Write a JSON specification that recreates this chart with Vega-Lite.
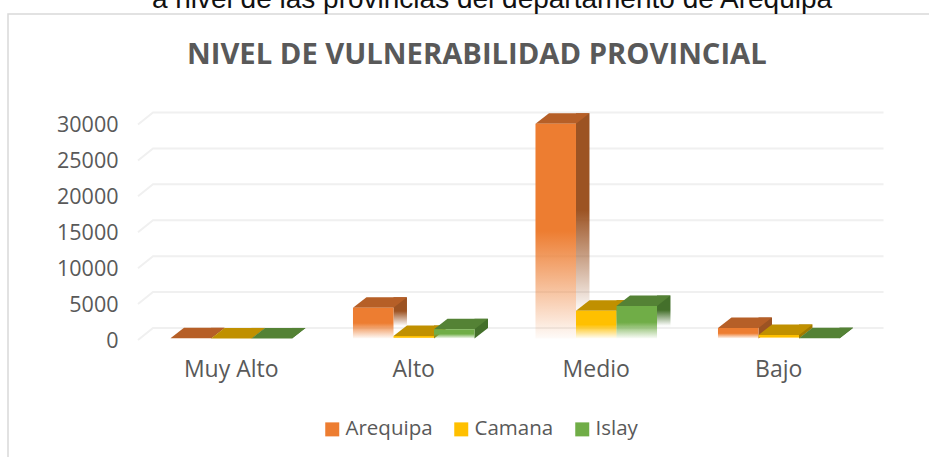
{"$schema":"https://vega.github.io/schema/vega-lite/v6.json","autosize":{"type":"none"},"padding":{"left":140,"top":123,"right":59,"bottom":118.5},"width":730,"height":215.5,"background":"white","title":{"text":"NIVEL DE VULNERABILIDAD PROVINCIAL","font":"Open Sans","fontWeight":700,"fontSize":29.2,"color":"#595959","anchor":"start","frame":"group","dx":47,"offset":-84},"config":{"view":{"stroke":null},"axis":{"grid":false,"domain":false,"ticks":false,"title":null,"labelColor":"#595959","labelFont":"Open Sans","labelFontSize":23},"legend":{"labelFont":"Open Sans"}},"data":{"values":[{"nivel":"Muy Alto","provincia":"Arequipa","valor":20},{"nivel":"Muy Alto","provincia":"Camana","valor":10},{"nivel":"Muy Alto","provincia":"Islay","valor":5},{"nivel":"Alto","provincia":"Arequipa","valor":4290},{"nivel":"Alto","provincia":"Camana","valor":350},{"nivel":"Alto","provincia":"Islay","valor":1280},{"nivel":"Medio","provincia":"Arequipa","valor":29900},{"nivel":"Medio","provincia":"Camana","valor":3870},{"nivel":"Medio","provincia":"Islay","valor":4520},{"nivel":"Bajo","provincia":"Arequipa","valor":1460},{"nivel":"Bajo","provincia":"Camana","valor":490},{"nivel":"Bajo","provincia":"Islay","valor":50}]},"encoding":{"x":{"field":"nivel","type":"nominal","axis":{"labelAngle":0,"labelPadding":20},"scale":{"domain":["Muy Alto","Alto","Medio","Bajo"],"paddingInner":0.334,"paddingOuter":0.167}},"xOffset":{"field":"provincia","type":"nominal","scale":{"domain":["Arequipa","Camana","Islay"],"paddingInner":0,"paddingOuter":0}},"y":{"field":"valor","type":"quantitative","axis":{"values":[0,5000,10000,15000,20000,25000,30000],"labelPadding":22,"labelOffset":2.5,"format":"d","labelFontSize":21.5},"scale":{"domain":[0,30000],"nice":false}}},"layer":[{"data":{"values":[{}]},"mark":{"type":"rect","fill":"transparent","stroke":"#d9d9d9","strokeWidth":1.5},"encoding":{"x":{"value":-132},"y":{"value":-109},"x2":{"value":830},"y2":{"value":400},"xOffset":null}},{"data":{"values":[{"t":"a nivel de las provincias del departamento de Arequipa"}]},"mark":{"type":"text","font":"Liberation Sans","fontSize":28,"color":"#111111","align":"center","baseline":"alphabetic"},"encoding":{"text":{"field":"t"},"x":{"value":352},"y":{"value":-115},"xOffset":null}},{"data":{"values":[{"tick":0},{"tick":5000},{"tick":10000},{"tick":15000},{"tick":20000},{"tick":25000},{"tick":30000}]},"mark":{"type":"point","shape":"M-367,1.5L-352,-10.5L378.5,-10.5","size":4,"filled":false,"stroke":"#f0f0f0","strokeWidth":2,"opacity":1},"encoding":{"x":null,"xOffset":null,"y":{"field":"tick","type":"quantitative"}}},{"transform":[{"filter":"datum.provincia==='Arequipa'"}],"layer":[{"transform":[{"filter":"datum.valor>=2000"}],"mark":{"type":"bar","width":13.5,"yOffset":-10.5,"y2Offset":-10.5,"fill":{"gradient":"linear","x1":0,"y1":0,"x2":0,"y2":1,"stops":[{"offset":0,"color":"#9c5323"},{"offset":0.45,"color":"#9c5323"},{"offset":0.92,"color":"rgba(156,83,35,0.03)"},{"offset":1,"color":"rgba(156,83,35,0)"}]}},"encoding":{"xOffset":{"value":47.25}}},{"transform":[{"filter":"datum.valor<2000"}],"mark":{"type":"bar","width":13.5,"yOffset":-10.5,"y2Offset":-10.5,"fill":"#9c5323"},"encoding":{"xOffset":{"value":47.25}}},{"transform":[{"filter":"datum.valor<2000"}],"mark":{"type":"point","shape":"M20.25,0L20.25,-10.5L33.75,-10.5Z","size":4,"filled":true,"fill":"#9c5323","strokeWidth":0,"opacity":1},"encoding":{"y":{"datum":0}}},{"mark":{"type":"point","shape":"M-20.25,0L20.25,0L33.75,-10.5L-6.75,-10.5Z","size":4,"filled":true,"fill":"#b65f27","strokeWidth":0,"opacity":1}},{"mark":{"type":"bar","fill":{"gradient":"linear","x1":0,"y1":0,"x2":0,"y2":1,"stops":[{"offset":0,"color":"#ed7d31"},{"offset":0.5,"color":"#ed7d31"},{"offset":1,"color":"rgba(237,125,49,0.03)"}]}}}]},{"transform":[{"filter":"datum.provincia==='Camana'"}],"layer":[{"transform":[{"filter":"datum.valor>=2000"}],"mark":{"type":"bar","width":13.5,"yOffset":-10.5,"y2Offset":-10.5,"fill":{"gradient":"linear","x1":0,"y1":0,"x2":0,"y2":1,"stops":[{"offset":0,"color":"#a07a00"},{"offset":0.45,"color":"#a07a00"},{"offset":0.92,"color":"rgba(160,122,0,0.03)"},{"offset":1,"color":"rgba(160,122,0,0)"}]}},"encoding":{"xOffset":{"value":87.75}}},{"transform":[{"filter":"datum.valor<2000"}],"mark":{"type":"bar","width":13.5,"yOffset":-10.5,"y2Offset":-10.5,"fill":"#a07a00"},"encoding":{"xOffset":{"value":87.75}}},{"transform":[{"filter":"datum.valor<2000"}],"mark":{"type":"point","shape":"M20.25,0L20.25,-10.5L33.75,-10.5Z","size":4,"filled":true,"fill":"#a07a00","strokeWidth":0,"opacity":1},"encoding":{"y":{"datum":0}}},{"mark":{"type":"point","shape":"M-20.25,0L20.25,0L33.75,-10.5L-6.75,-10.5Z","size":4,"filled":true,"fill":"#c09000","strokeWidth":0,"opacity":1}},{"mark":{"type":"bar","fill":{"gradient":"linear","x1":0,"y1":0,"x2":0,"y2":1,"stops":[{"offset":0,"color":"#ffc000"},{"offset":0.5,"color":"#ffc000"},{"offset":1,"color":"rgba(255,192,0,0.03)"}]}}}]},{"transform":[{"filter":"datum.provincia==='Islay'"}],"layer":[{"transform":[{"filter":"datum.valor>=2000"}],"mark":{"type":"bar","width":13.5,"yOffset":-10.5,"y2Offset":-10.5,"fill":{"gradient":"linear","x1":0,"y1":0,"x2":0,"y2":1,"stops":[{"offset":0,"color":"#44702b"},{"offset":0.45,"color":"#44702b"},{"offset":0.92,"color":"rgba(68,112,43,0.03)"},{"offset":1,"color":"rgba(68,112,43,0)"}]}},"encoding":{"xOffset":{"value":128.25}}},{"transform":[{"filter":"datum.valor<2000"}],"mark":{"type":"bar","width":13.5,"yOffset":-10.5,"y2Offset":-10.5,"fill":"#44702b"},"encoding":{"xOffset":{"value":128.25}}},{"transform":[{"filter":"datum.valor<2000"}],"mark":{"type":"point","shape":"M20.25,0L20.25,-10.5L33.75,-10.5Z","size":4,"filled":true,"fill":"#44702b","strokeWidth":0,"opacity":1},"encoding":{"y":{"datum":0}}},{"mark":{"type":"point","shape":"M-20.25,0L20.25,0L33.75,-10.5L-6.75,-10.5Z","size":4,"filled":true,"fill":"#548235","strokeWidth":0,"opacity":1}},{"mark":{"type":"bar","fill":{"gradient":"linear","x1":0,"y1":0,"x2":0,"y2":1,"stops":[{"offset":0,"color":"#70ad47"},{"offset":0.5,"color":"#70ad47"},{"offset":1,"color":"rgba(112,173,71,0.03)"}]}}}]},{"mark":{"type":"point","filled":true,"size":0},"encoding":{"color":{"field":"provincia","type":"nominal","title":null,"scale":{"domain":["Arequipa","Camana","Islay"],"range":["#ed7d31","#ffc000","#70ad47"]},"legend":{"orient":"none","legendX":182,"legendY":296,"direction":"horizontal","columns":3,"symbolType":"square","symbolSize":196,"symbolStrokeWidth":0,"symbolOpacity":1,"labelFontSize":20.5,"labelColor":"#595959","columnPadding":18,"labelOffset":3}}}}]}
